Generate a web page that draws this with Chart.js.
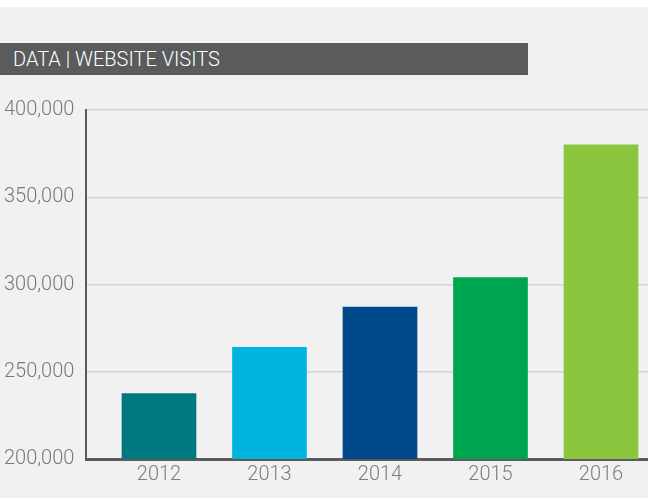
<!DOCTYPE html>
<html lang="en">
<head>
    <meta charset="UTF-8">
    <title>Website Visits</title>
    <script src="https://cdn.jsdelivr.net/npm/chart.js"></script>
    <style>
        html, body { margin: 0; padding: 0; }
        body {
            width: 648px;
            height: 498px;
            overflow: hidden;
            background: linear-gradient(#ffffff 0, #ffffff 7px, #f1f1f1 7px);
            position: relative;
            font-family: Roboto, sans-serif;
        }
        .title-bar {
            position: absolute;
            left: 0;
            top: 43px;
            width: 528px;
            height: 32px;
            line-height: 32px;
            background: #5a5b5d;
            color: #ffffff;
            font-weight: 300;
            font-size: 20px;
            padding-left: 13px;
            box-sizing: border-box;
            z-index: 2;
        }
        #visitsChart { position: absolute; left: 0; top: 0; }
    </style>
</head>
<body>
    <div class="title-bar">DATA | WEBSITE VISITS</div>
    <canvas id="visitsChart" width="648" height="498"></canvas>

    <script>
        // values
        const years = [2012, 2013, 2014, 2015, 2016];
        const visits = [237500, 264000, 287000, 304000, 380000];
        const barColors = ["#00787f", "#00b4e0", "#004a8b", "#00a54f", "#8cc63f"];
        const yTicks = [200000, 250000, 300000, 350000, 400000];

        const labelFont = { family: "Roboto", weight: "300", size: 20 };

        new Chart(document.getElementById("visitsChart").getContext("2d"), {
            type: "bar",
            data: {
                datasets: [{
                    data: years.map((y, i) => ({ x: y, y: visits[i] })),
                    backgroundColor: barColors,
                    borderWidth: 0,
                    barThickness: 74,
                }],
            },
            options: {
                responsive: false,
                animation: false,
                layout: { padding: { top: 110, left: 4, right: 0, bottom: 0 } },
                plugins: { legend: { display: false }, tooltip: { enabled: false } },
                scales: {
                    x: {
                        type: "linear",
                        offset: false,
                        min: 2011.3394,
                        max: 2016.4253,
                        afterBuildTicks: (scale) => { scale.ticks = years.map(v => ({ value: v })); },
                        afterFit: (scale) => { scale.height = 39; },
                        grid: { display: false, drawTicks: false },
                        border: { display: true, color: "#5b5b5b", width: 3 },
                        ticks: {
                            padding: 4,
                            color: "#7e7e7e",
                            font: labelFont,
                            callback: (v) => String(v),
                        },
                    },
                    y: {
                        min: 200000,
                        max: 400000,
                        afterBuildTicks: (scale) => { scale.ticks = yTicks.map(v => ({ value: v })); },
                        afterFit: (scale) => { scale.width = 82; },
                        grid: { color: "#d3d3d3", lineWidth: 1.5, drawTicks: false },
                        border: { display: true, color: "#5b5b5b", width: 2 },
                        ticks: {
                            crossAlign: "far",
                            color: "#7a7a7a",
                            font: labelFont,
                            callback: (v) => v.toLocaleString("en-US"),
                        },
                    },
                },
            },
        });
    </script>
</body>
</html>
